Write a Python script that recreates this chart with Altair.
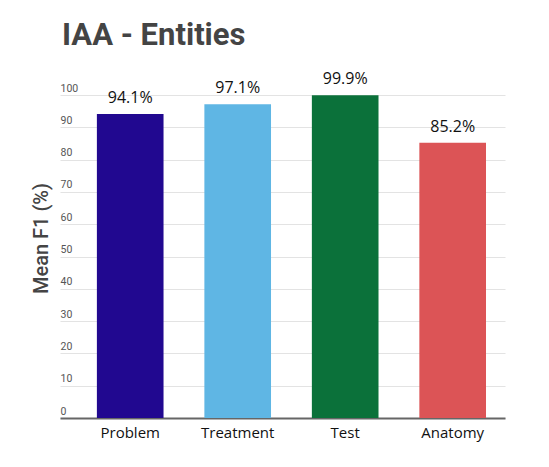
import altair as alt
import pandas as pd

# values
categories = ["Problem", "Treatment", "Test", "Anatomy"]
mean_f1 = [94.1, 97.1, 99.9, 85.2]
labels = ["94.1%", "97.1%", "99.9%", "85.2%"]
colors = ["#210890", "#5fb6e4", "#0b713a", "#dc5456"]

data = pd.DataFrame({"entity": categories, "f1": mean_f1, "label": labels})

x = alt.X(
    "entity:N",
    sort=categories,
    title=None,
    scale=alt.Scale(paddingInner=0.38, paddingOuter=0.26, align=0.66),
    axis=alt.Axis(
        labelAngle=0,
        labelFont="Open Sans",
        labelFontSize=15,
        labelColor="#111",
        labelPadding=7,
        ticks=False,
        domainColor="#666",
        domainWidth=2,
        grid=False,
    ),
)
y = alt.Y(
    "f1:Q",
    title="Mean F1 (%)",
    scale=alt.Scale(domain=[0, 100], nice=False),
    axis=alt.Axis(
        values=list(range(0, 101, 10)),
        labelAlign="left",
        labelBaseline="bottom",
        labelPadding=0,
        labelFont="Roboto",
        labelFontSize=10.5,
        labelColor="#555",
        labelOffset=-2,
        ticks=False,
        domain=False,
        gridColor="#e3e3e3",
        gridWidth=1,
        titleFont="Roboto",
        titleFontSize=20,
        titleFontWeight=500,
        titleColor="#444",
        titlePadding=9,
        titleY=143,
    ),
)

bars = alt.Chart(data).mark_bar().encode(
    x=x,
    y=y,
    color=alt.Color("entity:N", sort=categories,
                    scale=alt.Scale(domain=categories, range=colors), legend=None),
)

text = alt.Chart(data).mark_text(
    baseline="bottom", dy=-8, font="Open Sans", fontSize=16, color="#111"
).encode(x=x, y=y, text="label:N")

chart = (
    (bars + text)
    .properties(
        width=445,
        height=323,
        padding={"left": 52, "top": 87, "right": 36, "bottom": 35},
        autosize=alt.AutoSizeParams(type="none"),
        title=alt.TitleParams(
            "IAA - Entities",
            font="Roboto",
            fontSize=31,
            fontWeight="bold",
            color="#444",
            anchor="start",
            offset=19,
            dx=31,
        ),
    )
    .configure_view(stroke=None)
)

chart.save("out.html", embed_options={"renderer": "svg", "actions": False})
